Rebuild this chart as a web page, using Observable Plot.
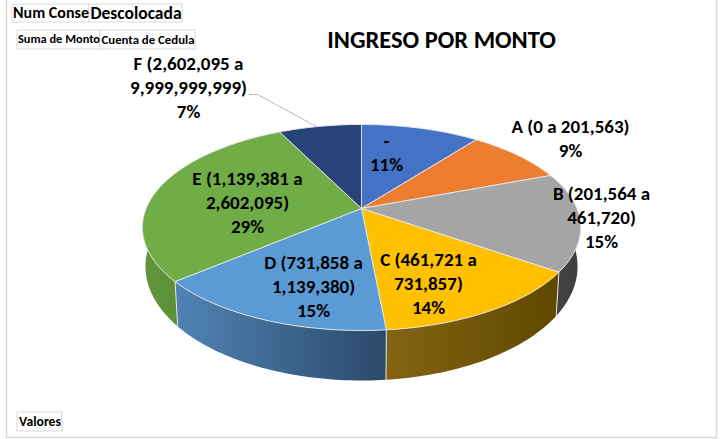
<!DOCTYPE html>
<html><head><meta charset="utf-8">
<script src="https://cdn.jsdelivr.net/npm/d3@7"></script>
<script src="https://cdn.jsdelivr.net/npm/@observablehq/plot@0.6"></script>
<style>html,body{margin:0;padding:0;background:#fff}svg{display:block}</style>
</head><body><div id="chart"></div>
<script>
const categories = ["-", "A", "B", "C", "D", "E", "F"];
const shares = [10.45, 8.8, 15.45, 13.8, 15.3, 28.9, 7.3];
const labels = ["-\n11%", "A (0 a 201,563)\n9%", "B (201,564 a\n461,720)\n15%", "C (461,721 a\n731,857)\n14%", "D (731,858 a\n1,139,380)\n15%", "E (1,139,381 a\n2,602,095)\n29%", "F (2,602,095 a\n9,999,999,999)\n7%"];
const colors = ["#4472c4", "#ed7d31", "#a5a5a5", "#ffc000", "#5b9bd5", "#70ad47", "#264478"];
const wallLeft = {B: "#444444", C: "#846413", D: "#5083b5", E: "#62973b"};
const wallRight = {B: "#3e3e3e", C: "#5f4800", D: "#2b4a69", E: "#5c8f37"};
const labelAnchors = [[386, 151], [570, 137], [601, 216], [428, 282], [313, 285], [247, 201], [188, 86]];
const pivotButtons = [
  {text: "Num Conse", x1: 12, x2: 89, y1: 4, y2: 22, size: 16},
  {text: "Descolocada", x1: 89, x2: 182, y1: 4, y2: 22, size: 17.5},
  {text: "Suma de Monto", x1: 17, x2: 100, y1: 30, y2: 49, size: 12.4},
  {text: "Cuenta de Cedula", x1: 100, x2: 195, y1: 30, y2: 49, size: 12.8},
  {text: "Valores", x1: 17, x2: 62, y1: 412, y2: 431, size: 13.7}
];

// Perspective projection of the pie disc, fitted to the picture
const cx = 361, cy = 208, A = 215.3, B = 99.5, p = 0.1844;
const top3d = (t) => {
  const s = 1 / (1 + p * Math.cos(t));
  return [cx + A * Math.sin(t) * s, cy - B * Math.cos(t) * s];
};
// Lower rim of the wall: the same position on a second, lower ellipse
const bottom3d = (t) => {
  const [x, y] = top3d(t);
  const u = (x - cx) / 219, v = (y - 227) / 103;
  return [cx + 216 * u, 266 + 114 * v];
};

const total = d3.sum(shares);
let cum = 0;
const slices = categories.map((c, i) => {
  const a0 = cum / total * 2 * Math.PI; cum += shares[i];
  return {c, i, a0, a1: cum / total * 2 * Math.PI};
});

const tops = [];
const wallMarks = [];
const gradients = [];
for (const s of slices) {
  const n = Math.max(4, Math.ceil((s.a1 - s.a0) * 50));
  tops.push({id: s.c, cat: s.c, x: cx, y: cy});
  for (let k = 0; k <= n; k++) {
    const [x, y] = top3d(s.a0 + (s.a1 - s.a0) * k / n);
    tops.push({id: s.c, cat: s.c, x, y});
  }
  tops.push({id: s.c, cat: s.c, x: cx, y: cy});
  const lo = Math.max(s.a0, Math.PI * 0.4), hi = Math.min(s.a1, Math.PI * 1.6);
  if (hi > lo && wallLeft[s.c]) {
    const m = Math.ceil((hi - lo) * 50);
    const pts = [];
    for (let k = 0; k <= m; k++) { const [x, y] = top3d(lo + (hi - lo) * k / m); pts.push({x, y}); }
    for (let k = m; k >= 0; k--) { const [x, y] = bottom3d(lo + (hi - lo) * k / m); pts.push({x, y}); }
    pts.push(pts[0]);
    const id = "wall" + s.i;
    gradients.push({id, x1: d3.min(pts, d => d.x), x2: d3.max(pts, d => d.x), from: wallLeft[s.c], to: wallRight[s.c]});
    wallMarks.push(Plot.line(pts, {x: "x", y: "y", fill: `url(#${id})`, stroke: "none"}));
  }
}
const wallDefs = () => {
  const defs = d3.create("svg:defs");
  for (const g of gradients) {
    const lg = defs.append("linearGradient").attr("id", g.id).attr("gradientUnits", "userSpaceOnUse")
      .attr("x1", g.x1).attr("x2", g.x2).attr("y1", 0).attr("y2", 0);
    lg.append("stop").attr("offset", 0).attr("stop-color", g.from);
    lg.append("stop").attr("offset", 1).attr("stop-color", g.to);
  }
  return defs.node();
};
const wallEdges = [];
for (const s of slices) {
  if (s.a0 > Math.PI * 0.4 && s.a0 < Math.PI * 1.6) {
    for (const [x, y] of [top3d(s.a0), bottom3d(s.a0)]) wallEdges.push({id: s.c, x, y});
  }
}
const leaderEnd = top3d(slices[6].a0 + (slices[6].a1 - slices[6].a0) * 0.46);
const leader = [{x: 249, y: 94}, {x: 257, y: 94}, {x: leaderEnd[0], y: leaderEnd[1]}];
const frame = [{x: 6, y: 0}, {x: 6, y: 437}, {x: 716, y: 437}, {x: 716, y: 0}];
const labelData = labels.map((text, i) => ({text, x: labelAnchors[i][0], y: labelAnchors[i][1]}));
const font = "Carlito, 'Open Sans', 'Noto Sans', sans-serif";

const chart = Plot.plot({
  width: 720, height: 439, margin: 0,
  x: {domain: [0, 720], range: [0, 720], axis: null},
  y: {domain: [0, 439], range: [0, 439], axis: null},
  color: {domain: categories, range: colors},
  style: {background: "#fff"},
  marks: [
    wallDefs,
    Plot.line(frame, {x: "x", y: "y", stroke: "#d9d9d9", strokeWidth: 1.5}),
    ...wallMarks,
    Plot.line(wallEdges, {x: "x", y: "y", z: "id", stroke: "#e4e4e4", strokeWidth: 1}),
    Plot.line(tops, {x: "x", y: "y", z: "id", fill: "cat", stroke: "#e8e8e8", strokeWidth: 0.9}),
    Plot.line(leader, {x: "x", y: "y", stroke: "#a6a6a6", strokeWidth: 0.8}),
    Plot.rect(pivotButtons, {x1: "x1", x2: "x2", y1: "y1", y2: "y2", stroke: "#d9d9d9", fill: "#fff", strokeWidth: 1}),
    Plot.text(pivotButtons, {x: d => (d.x1 + d.x2) / 2, y: d => (d.y1 + d.y2) / 2 - 0.5, text: "text", fontSize: "size", fontWeight: 700, fontFamily: font, fill: "#000"}),
    Plot.text(labelData, {x: "x", y: "y", text: "text", fontSize: 19, fontWeight: 700, fontFamily: font, fill: "#000", lineHeight: 1.25}),
    Plot.text(["INGRESO POR MONTO"], {x: [441], y: [40], text: d => d, fontSize: 24.5, fontWeight: 700, fontFamily: font, fill: "#000"})
  ]
});
document.getElementById("chart").append(chart);
</script></body></html>
